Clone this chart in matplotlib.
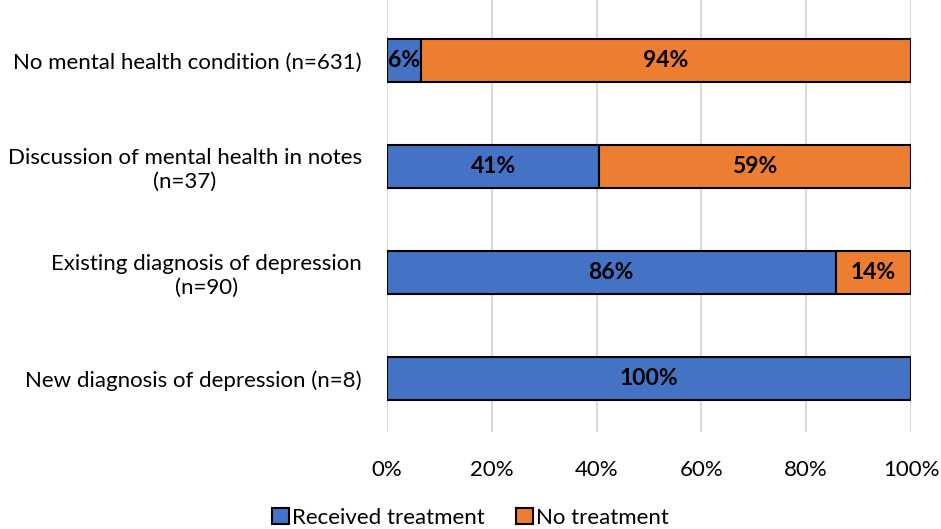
import numpy as np
import matplotlib.pyplot as plt

categories = ["No mental health condition (n=631)",
              "Discussion of mental health in notes\n(n=37)",
              "Existing diagnosis of depression\n(n=90)",
              "New diagnosis of depression (n=8)"]
received = [6.5, 40.5, 85.6, 100.0]
no_treatment = [93.5, 59.5, 14.4, 0.0]
received_labels = ["6%", "41%", "86%", "100%"]
no_treatment_labels = ["94%", "59%", "14%", ""]

BLUE = "#4472c4"
ORANGE = "#ed7d31"

plt.rcParams["font.family"] = ["Lato", "DejaVu Sans"]

fig = plt.figure(figsize=(9.41, 5.29), dpi=100)
ax = fig.add_axes([387 / 941, 1 - 432 / 529, (911 - 387) / 941, 432 / 529])

y = np.arange(len(categories))
h = 0.4
ax.barh(y, received, height=h, color=BLUE, edgecolor="black", linewidth=1.5,
        label="Received treatment", zorder=3)
ax.barh(y, no_treatment, left=received, height=h, color=ORANGE, edgecolor="black",
        linewidth=1.5, label="No treatment", zorder=3)

for i in range(len(categories)):
    if received_labels[i]:
        ax.text(received[i] / 2, y[i], received_labels[i], ha="center", va="center",
                fontsize=16.5, fontweight="bold", zorder=4)
    if no_treatment_labels[i]:
        ax.text(received[i] + no_treatment[i] / 2, y[i], no_treatment_labels[i],
                ha="center", va="center", fontsize=16.5, fontweight="bold", zorder=4)

ax.set_xlim(0, 100)
ax.set_ylim(3.505, -0.57)
ax.set_xticks([0, 20, 40, 60, 80, 100])
ax.set_xticklabels([f"{v}%" for v in [0, 20, 40, 60, 80, 100]], fontsize=16)
ax.set_yticks(y)
ax.set_yticklabels(categories, fontsize=16, multialignment="center")
ax.tick_params(axis="both", length=0)
ax.tick_params(axis="x", pad=20)
ax.tick_params(axis="y", pad=18)
ax.grid(axis="x", color="#d9d9d9", linewidth=1.5, zorder=0)
for s in ax.spines.values():
    s.set_visible(False)

fig.legend(loc="lower center", bbox_to_anchor=(0.5, -0.035), ncol=2, frameon=False,
           fontsize=16, handlelength=0.75, handleheight=0.75, handletextpad=0.15,
           columnspacing=1.4)

plt.savefig("out.png", dpi=100)
